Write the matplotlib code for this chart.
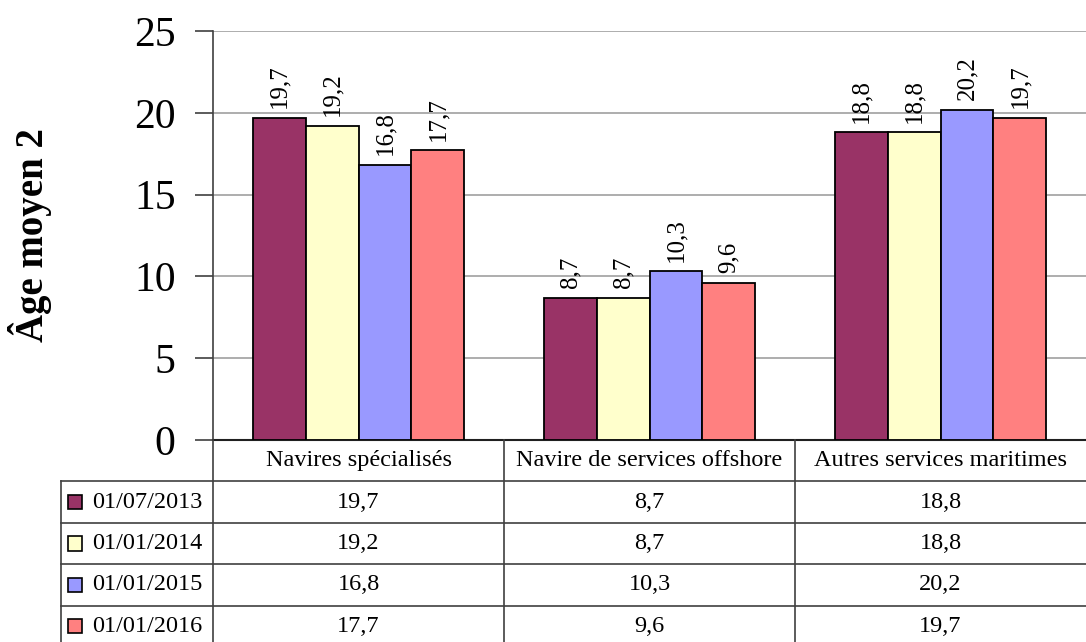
import numpy as np
import matplotlib
matplotlib.use('Agg')
import matplotlib.pyplot as plt
from matplotlib.patches import Rectangle

plt.rcParams['font.family'] = ['Liberation Serif', 'DejaVu Serif']

# Data
categories = ['Navires spécialisés', 'Navire de services offshore', 'Autres services maritimes']
dates = ['01/07/2013', '01/01/2014', '01/01/2015', '01/01/2016']
v2013_07 = [19.7, 8.7, 18.8]
v2014_01 = [19.2, 8.7, 18.8]
v2015_01 = [16.8, 10.3, 20.2]
v2016_01 = [17.7, 9.6, 19.7]
series = [v2013_07, v2014_01, v2015_01, v2016_01]
colors = ['#993366', '#FFFFCC', '#9999FF', '#FF8080']

def fmt(v):
    return f'{v:.1f}'.replace('.', ',')

W, H = 1086, 642
fig = plt.figure(figsize=(W / 100, H / 100), dpi=100)

# plot area in pixels
x0, x1 = 213, 1086
y_top, y_zero = 31, 440
ax = fig.add_axes([x0 / W, (H - y_zero) / H, (x1 - x0) / W, (y_zero - y_top) / H])

x = np.arange(len(categories))
bw = 0.182
for i, (vals, c) in enumerate(zip(series, colors)):
    pos = x + (i - 1.5) * bw
    ax.bar(pos, vals, width=bw, color=c, edgecolor='black', linewidth=1.3, zorder=3)
    for p, v in zip(pos, vals):
        ax.annotate(fmt(v), (p, v), xytext=(0, 7), textcoords='offset points',
                    rotation=90, ha='center', va='bottom', fontsize=18, zorder=4)

ax.set_xlim(-0.5, 2.5)
ax.set_ylim(0, 25)
ax.set_yticks([0, 5, 10, 15, 20, 25])
ax.set_yticklabels(['0', '5', '10', '15', '20', '25'], fontsize=30)
ax.tick_params(axis='y', direction='out', length=13, width=1.2, pad=14, color='#404040')
ax.set_xticks([])
ax.yaxis.grid(True, color='#a0a0a0', linewidth=1.2, zorder=0)
for s in ['top', 'right']:
    ax.spines[s].set_visible(False)
ax.spines['left'].set_color('#404040')
ax.spines['left'].set_linewidth(1.2)
ax.spines['bottom'].set_color('#202020')
ax.spines['bottom'].set_linewidth(1.5)
ax.set_ylabel('Âge moyen 2', fontsize=28, fontweight='bold')
ax.yaxis.set_label_coords((52 - x0) / (x1 - x0), 0.5)

# data table below the plot
tx0 = 61
px = 3 / (x1 - x0)
left = -0.5 - (x0 - tx0) * px
nrows = (H - y_zero) / 41.4
tax = fig.add_axes([tx0 / W, 0, (W - tx0) / W, (H - y_zero) / H])
tax.set_xlim(left, 2.5)
tax.set_ylim(nrows, 0)
tax.axis('off')

lc = '#404040'
lw = 1.2
for r in range(1, 5):
    tax.plot([left, 2.5], [r, r], color=lc, linewidth=lw, clip_on=False)
tax.plot([left, left], [1, nrows], color=lc, linewidth=lw, clip_on=False)
for b in [-0.5, 0.5, 1.5]:
    tax.plot([b, b], [0, nrows], color=lc, linewidth=lw, clip_on=False)

for j, cat in enumerate(categories):
    tax.text(j, 0.5, cat, ha='center', va='center', fontsize=17.5)

sq = 14 * px
for i, (d, vals, c) in enumerate(zip(dates, series, colors)):
    yc = i + 1.5
    tax.add_patch(Rectangle((left + 7 * px, yc - 0.17), sq, 0.34,
                            facecolor=c, edgecolor='black', linewidth=1.2))
    tax.text(left + 31 * px, yc, d, ha='left', va='center', fontsize=17.5)
    for j, v in enumerate(vals):
        tax.text(j, yc, fmt(v), ha='center', va='center', fontsize=17.5)

fig.savefig('out.png', dpi=100)
